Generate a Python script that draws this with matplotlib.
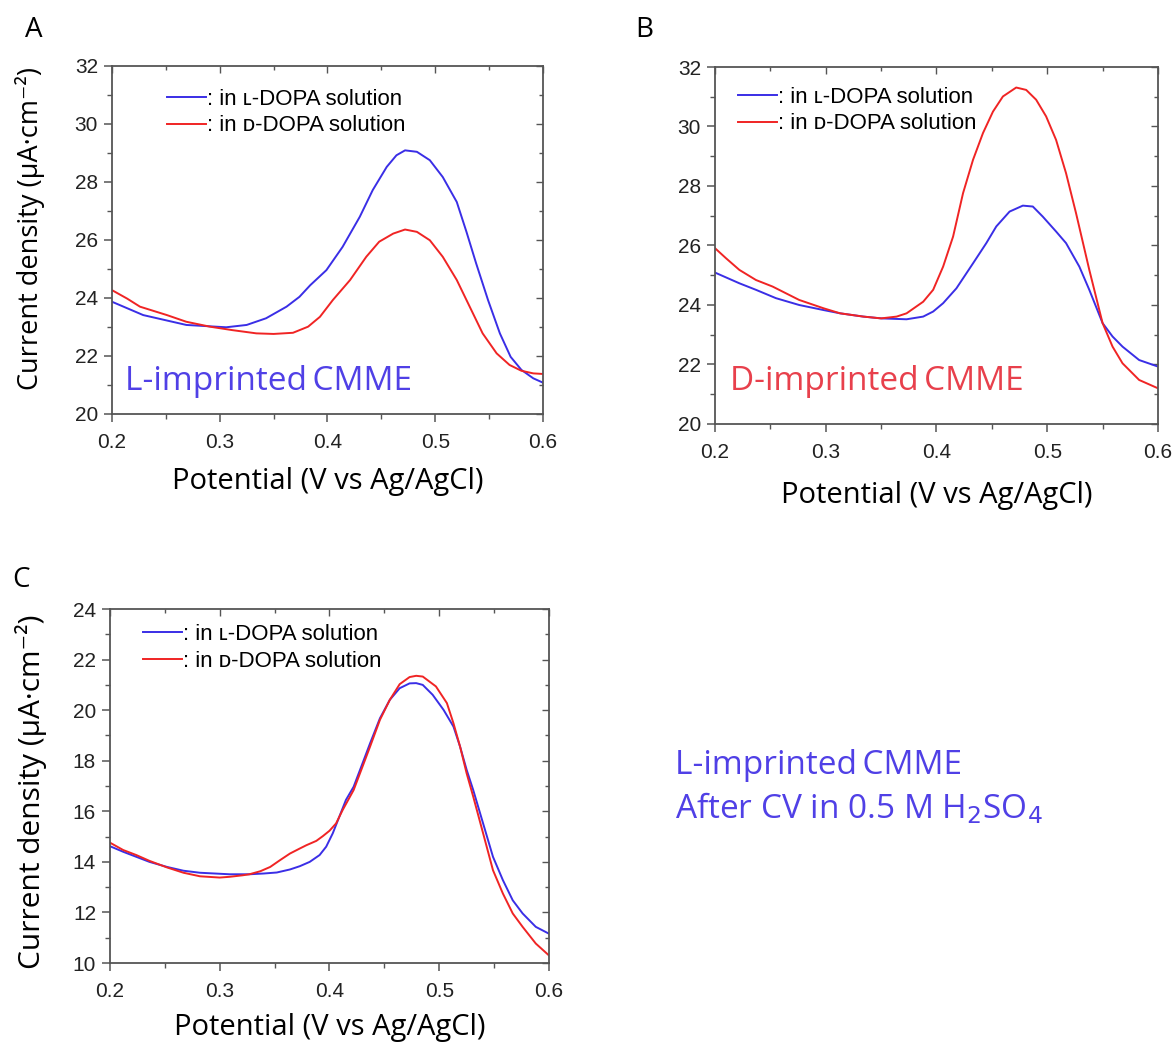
import matplotlib
matplotlib.use("Agg")
import matplotlib.pyplot as plt
from matplotlib.ticker import MultipleLocator

# ---------------- data ----------------
# Panel A: L-imprinted CMME
a_l_x = [0.200, 0.229, 0.269, 0.306, 0.325, 0.343, 0.362, 0.374, 0.384, 0.399, 0.414, 0.430, 0.442, 0.455,
         0.464, 0.472, 0.483, 0.495, 0.507, 0.520, 0.529, 0.538, 0.549, 0.560, 0.570, 0.580, 0.591, 0.600]
a_l_y = [23.87, 23.41, 23.07, 22.99, 23.07, 23.30, 23.70, 24.04, 24.44, 24.96, 25.76, 26.80, 27.72, 28.52,
         28.92, 29.09, 29.04, 28.75, 28.17, 27.31, 26.28, 25.19, 23.93, 22.78, 21.97, 21.52, 21.23, 21.08]
a_d_x = [0.200, 0.214, 0.226, 0.251, 0.269, 0.291, 0.312, 0.334, 0.350, 0.368, 0.382, 0.393, 0.405, 0.421,
         0.436, 0.448, 0.461, 0.472, 0.483, 0.495, 0.507, 0.520, 0.532, 0.544, 0.557, 0.569, 0.580, 0.591, 0.600]
a_d_y = [24.27, 23.98, 23.70, 23.41, 23.18, 23.01, 22.89, 22.78, 22.76, 22.80, 23.01, 23.35, 23.93, 24.62,
         25.42, 25.94, 26.22, 26.36, 26.28, 25.99, 25.42, 24.62, 23.70, 22.78, 22.09, 21.69, 21.49, 21.40, 21.38]

# Panel B: D-imprinted CMME
b_l_x = [0.200, 0.222, 0.237, 0.255, 0.276, 0.298, 0.313, 0.334, 0.350, 0.373, 0.388, 0.397, 0.406, 0.418, 0.433,
         0.445, 0.454, 0.466, 0.478, 0.487, 0.496, 0.508, 0.517, 0.529, 0.538, 0.550, 0.559, 0.568, 0.583, 0.600]
b_l_y = [25.09, 24.73, 24.51, 24.23, 24.00, 23.83, 23.72, 23.61, 23.55, 23.52, 23.61, 23.78, 24.06, 24.56, 25.40,
         26.08, 26.64, 27.14, 27.34, 27.31, 26.97, 26.47, 26.08, 25.29, 24.51, 23.39, 22.94, 22.60, 22.15, 21.93]
b_d_x = [0.200, 0.210, 0.222, 0.237, 0.252, 0.276, 0.298, 0.313, 0.334, 0.350, 0.364, 0.373, 0.388, 0.397, 0.406,
         0.415, 0.424, 0.433, 0.442, 0.451, 0.460, 0.472, 0.481, 0.490, 0.499, 0.508, 0.517, 0.526, 0.538, 0.550,
         0.559, 0.568, 0.583, 0.600]
b_d_y = [25.91, 25.57, 25.18, 24.84, 24.62, 24.17, 23.89, 23.72, 23.61, 23.55, 23.61, 23.72, 24.11, 24.51, 25.29,
         26.30, 27.76, 28.88, 29.78, 30.50, 31.01, 31.31, 31.23, 30.90, 30.34, 29.55, 28.43, 27.09, 25.18, 23.39,
         22.60, 22.04, 21.48, 21.20]

# Panel C: L-imprinted CMME after CV in H2SO4
c_l_x = [0.200, 0.212, 0.224, 0.236, 0.252, 0.267, 0.282, 0.309, 0.327, 0.340, 0.352, 0.364, 0.373, 0.382, 0.391,
         0.397, 0.403, 0.409, 0.415, 0.422, 0.429, 0.437, 0.446, 0.455, 0.464, 0.473, 0.479, 0.485, 0.494, 0.504,
         0.513, 0.519, 0.525, 0.531, 0.540, 0.549, 0.558, 0.567, 0.576, 0.588, 0.600]
c_l_y = [14.62, 14.40, 14.20, 14.00, 13.80, 13.65, 13.57, 13.51, 13.51, 13.54, 13.58, 13.70, 13.83, 14.00, 14.27,
         14.60, 15.13, 15.79, 16.45, 16.97, 17.77, 18.69, 19.68, 20.41, 20.87, 21.06, 21.07, 21.00, 20.61, 20.01,
         19.35, 18.56, 17.64, 16.84, 15.52, 14.20, 13.28, 12.48, 11.96, 11.43, 11.16]
c_d_x = [0.200, 0.212, 0.224, 0.236, 0.252, 0.267, 0.282, 0.300, 0.309, 0.321, 0.327, 0.337, 0.346, 0.355, 0.364,
         0.373, 0.379, 0.388, 0.394, 0.400, 0.406, 0.412, 0.422, 0.429, 0.437, 0.446, 0.455, 0.464, 0.473, 0.479,
         0.485, 0.497, 0.507, 0.513, 0.519, 0.525, 0.531, 0.540, 0.549, 0.558, 0.567, 0.576, 0.588, 0.600]
c_d_y = [14.76, 14.47, 14.27, 14.04, 13.78, 13.57, 13.43, 13.38, 13.41, 13.47, 13.51, 13.63, 13.80, 14.07, 14.33,
         14.53, 14.66, 14.83, 15.02, 15.23, 15.52, 16.05, 16.84, 17.64, 18.56, 19.62, 20.41, 21.03, 21.31, 21.36,
         21.33, 20.94, 20.28, 19.48, 18.56, 17.50, 16.58, 15.13, 13.67, 12.75, 11.96, 11.43, 10.77, 10.30]

x_ticks = [0.2, 0.3, 0.4, 0.5, 0.6]
legend_labels = [": in \u029f-DOPA solution", ": in \u1d05-DOPA solution"]
ylabel_text = "Current density (\u03bcA\u00b7cm\u207b\u00b2)"
xlabel_text = "Potential (V vs Ag/AgCl)"

BLUE = "#3a2ee6"
RED = "#f02424"
TXT_BLUE = "#5040e6"
TXT_RED = "#e8404c"
AX_COL = "#555555"

TICK_FONT = ["Liberation Sans", "DejaVu Sans"]
LABEL_FONT = ["Open Sans", "DejaVu Sans"]

fig = plt.figure(figsize=(11.75, 10.42), dpi=100)


def style_axes(ax, ylim, ystep, xlab_y, ylab=None):
    ax.set_xlim(0.2, 0.6)
    ax.set_ylim(*ylim)
    ax.xaxis.set_minor_locator(MultipleLocator(0.05))
    ax.yaxis.set_major_locator(MultipleLocator(ystep))
    ax.yaxis.set_minor_locator(MultipleLocator(ystep / 2))
    ax.set_xticks(x_ticks)
    ax.set_xticklabels([f"{t:.1f}" for t in x_ticks])
    for sp in ax.spines.values():
        sp.set_color(AX_COL)
        sp.set_linewidth(1.3)
    ax.tick_params(which="major", direction="out", length=6, width=1.1, color=AX_COL,
                   labelsize=15)
    ax.tick_params(axis="x", which="major", pad=8)
    ax.tick_params(axis="y", which="major", pad=4)
    ax.tick_params(which="minor", direction="out", length=3.5, width=1.0, color=AX_COL)
    for lab in ax.get_xticklabels() + ax.get_yticklabels():
        lab.set_family(TICK_FONT)
        lab.set_color("#222222")
    # mirrored inward ticks on top and right
    sx = ax.secondary_xaxis("top")
    sx.set_xticks(x_ticks)
    sx.xaxis.set_minor_locator(MultipleLocator(0.05))
    sx.tick_params(which="major", direction="in", length=5, width=1.0, color=AX_COL, labeltop=False)
    sx.tick_params(which="minor", direction="in", length=3, width=1.0, color=AX_COL)
    sx.spines["top"].set_visible(False)
    sy = ax.secondary_yaxis("right")
    sy.yaxis.set_major_locator(MultipleLocator(ystep))
    sy.yaxis.set_minor_locator(MultipleLocator(ystep / 2))
    sy.tick_params(which="major", direction="in", length=5, width=1.0, color=AX_COL, labelright=False)
    sy.tick_params(which="minor", direction="in", length=3, width=1.0, color=AX_COL)
    sy.spines["right"].set_visible(False)
    ax.text(0.5, xlab_y, xlabel_text, transform=ax.transAxes, family=LABEL_FONT, fontsize=21,
            ha="center", va="center")
    if ylab is not None:
        ax.text(ylab[0], ylab[1], ylabel_text, transform=ax.transAxes, family=LABEL_FONT,
                fontsize=ylab[2], rotation=90, ha="center", va="center")


def add_legend(ax, lines, anchor):
    ax.legend(lines, legend_labels, loc="upper left", bbox_to_anchor=anchor,
              frameon=False, handlelength=1.75, handletextpad=0.05, borderpad=0.0,
              borderaxespad=0.0, labelspacing=0.26,
              prop={"family": TICK_FONT, "size": 16})


# ---- Panel A ----
axA = fig.add_axes([0.0953, 0.6027, 0.3668, 0.334])
l1, = axA.plot(a_l_x, a_l_y, color=BLUE, lw=1.4)
l2, = axA.plot(a_d_x, a_d_y, color=RED, lw=1.4)
style_axes(axA, (20, 32), 2, -0.195, (-0.19, 0.534, 19.5))
add_legend(axA, [l1, l2], (0.128, 0.935))
axA.text(0.030, 0.092, "L-imprinted\u2009CMME", transform=axA.transAxes, color=TXT_BLUE,
         fontsize=24, family=LABEL_FONT, va="center", ha="left")
fig.text(0.021, 0.971, "A", fontsize=20, family=LABEL_FONT, va="center", ha="left")

# ---- Panel B ----
axB = fig.add_axes([0.6085, 0.5931, 0.377, 0.3426])
l1, = axB.plot(b_l_x, b_l_y, color=BLUE, lw=1.4)
l2, = axB.plot(b_d_x, b_d_y, color=RED, lw=1.4)
style_axes(axB, (20, 32), 2, -0.199)
add_legend(axB, [l1, l2], (0.052, 0.945))
axB.text(0.034, 0.118, "D-imprinted\u2009CMME", transform=axB.transAxes, color=TXT_RED,
         fontsize=24, family=LABEL_FONT, va="center", ha="left")
fig.text(0.541, 0.971, "B", fontsize=20, family=LABEL_FONT, va="center", ha="left")

# ---- Panel C ----
axC = fig.add_axes([0.0936, 0.0758, 0.3736, 0.3397])
l1, = axC.plot(c_l_x, c_l_y, color=BLUE, lw=1.4)
l2, = axC.plot(c_d_x, c_d_y, color=RED, lw=1.4)
style_axes(axC, (10, 24), 2, -0.181, (-0.18, 0.483, 21.5))
add_legend(axC, [l1, l2], (0.075, 0.958))
fig.text(0.010, 0.443, "C", fontsize=20, family=LABEL_FONT, va="center", ha="left")

fig.text(0.5745, 0.2658, "L-imprinted\u2009CMME", color=TXT_BLUE, fontsize=24,
         family=LABEL_FONT, va="center", ha="left")
fig.text(0.5745, 0.2246, "After CV in 0.5 M H$_2$SO$_4$", color=TXT_BLUE, fontsize=24,
         family=LABEL_FONT, va="center", ha="left")

fig.savefig("out.png", dpi=100)
